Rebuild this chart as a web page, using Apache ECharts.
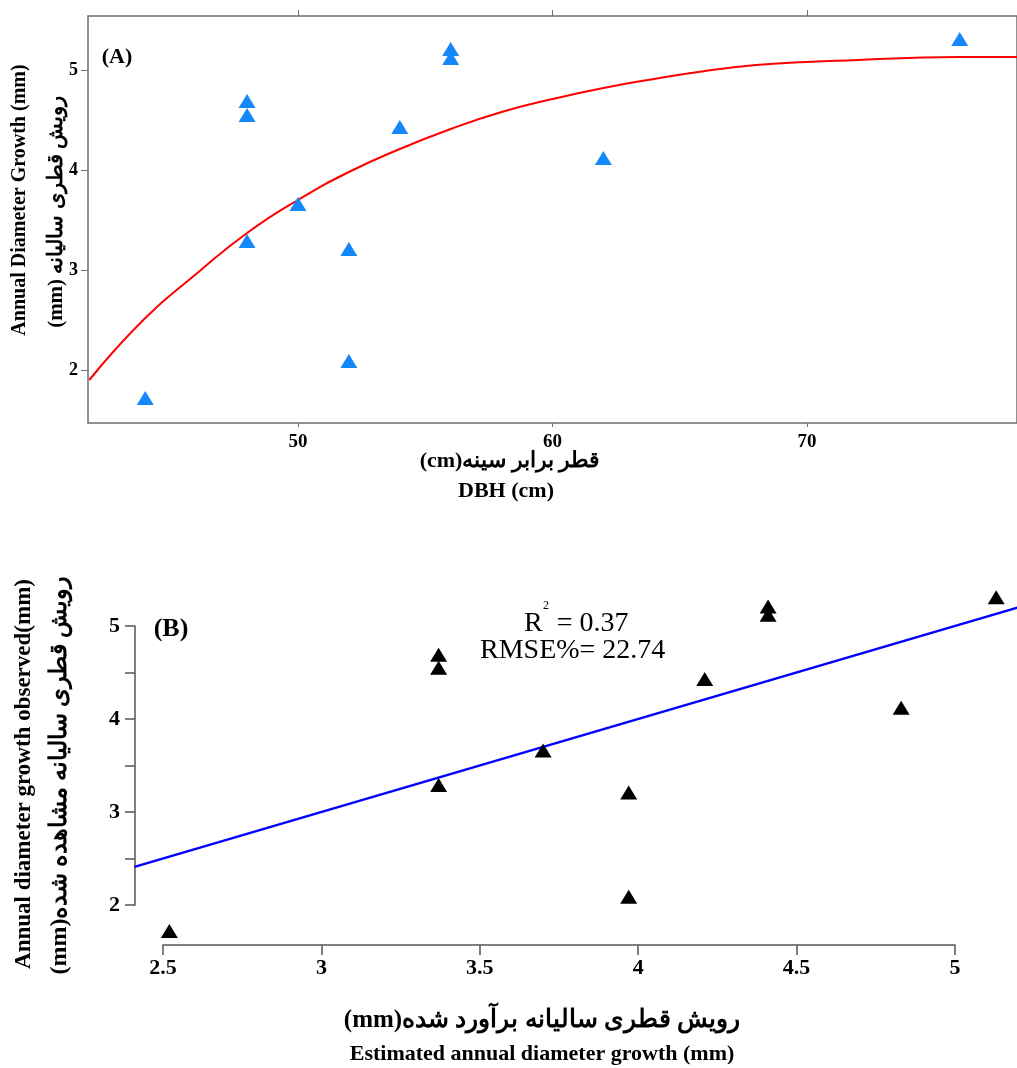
<!DOCTYPE html>
<html>
<head>
<meta charset="utf-8">
<script src="https://cdn.jsdelivr.net/npm/echarts@6.0.0/dist/echarts.min.js"></script>
<style>
html, body { margin: 0; padding: 0; background: #fff; }
#main { width: 1017px; height: 1068px; }
</style>
</head>
<body>
<div id="main"></div>
<script>
// ---- values ----
const dbh = [44, 48, 48, 48, 50, 52, 52, 54, 56, 56, 62, 76];
const observed = [1.72, 4.69, 4.55, 3.29, 3.66, 3.21, 2.09, 4.43, 5.21, 5.12, 4.12, 5.31];
const estimated = [2.52, 3.37, 3.37, 3.37, 3.70, 3.97, 3.97, 4.21, 4.41, 4.41, 4.83, 5.13];

// fitted curve of panel A
const curveX = [41.8, 44, 46, 48, 50, 52, 54, 56, 58, 60, 62, 64, 66, 68, 70, 72, 74, 76, 78.25];
const curveY = [1.90, 2.52, 2.96, 3.37, 3.70, 3.98, 4.21, 4.41, 4.58, 4.71, 4.82, 4.91, 4.99, 5.05, 5.08, 5.10, 5.12, 5.13, 5.13];

// 1:1 line of panel B
const lineX = [2.41, 5.2];
const lineY = [2.41, 5.2];

const topXTicks = [50, 60, 70];
const topYTicks = [2, 3, 4, 5];

const serif = "'Liberation Serif', 'Times New Roman', serif";

const chart = echarts.init(document.getElementById('main'));

const txt = (text, x, y, size, opts) => Object.assign({
  type: 'text',
  x: x, y: y,
  style: {
    text: text,
    font: 'bold ' + size + 'px ' + serif,
    fill: '#000',
    textAlign: 'center',
    textVerticalAlign: 'middle'
  }
}, opts || {});

const option = {
  animation: false,
  backgroundColor: '#fff',
  grid: [
    { left: 88, right: 0, top: 16, height: 407, show: true, borderColor: '#6e6e6e', borderWidth: 1.5, backgroundColor: 'transparent' },
    { left: 163, right: 62, top: 626, bottom: 163 }
  ],
  xAxis: [
    {
      gridIndex: 0, type: 'value', min: 41.75, max: 78.25,
      axisLine: { show: false },
      axisTick: { show: true, customValues: topXTicks, length: 4, lineStyle: { color: '#6e6e6e' } },
      axisLabel: { customValues: topXTicks, color: '#000', fontFamily: serif, fontWeight: 'bold', fontSize: 19, margin: 10 },
      splitLine: { show: false }
    },
    {
      gridIndex: 0, type: 'value', position: 'top', min: 41.75, max: 78.25,
      axisLine: { show: false },
      axisTick: { show: true, customValues: topXTicks, length: 6, lineStyle: { color: '#6e6e6e' } },
      axisLabel: { show: false },
      splitLine: { show: false }
    },
    {
      gridIndex: 1, type: 'value', min: 2.5, max: 5, interval: 0.5, offset: 40,
      axisLine: { show: true, lineStyle: { color: '#555', width: 1.5 } },
      axisTick: { show: true, length: 10, lineStyle: { color: '#555', width: 1.5 } },
      axisLabel: { color: '#000', fontFamily: serif, fontWeight: 'bold', fontSize: 22, margin: 12 },
      splitLine: { show: false }
    }
  ],
  yAxis: [
    {
      gridIndex: 0, type: 'value', min: 1.47, max: 5.54,
      axisLine: { show: false },
      axisTick: { show: true, customValues: topYTicks, length: 7, lineStyle: { color: '#6e6e6e' } },
      axisLabel: { customValues: topYTicks, color: '#000', fontFamily: serif, fontWeight: 'bold', fontSize: 18, margin: 10 },
      splitLine: { show: false }
    },
    {
      gridIndex: 1, type: 'value', min: 2, max: 5, interval: 0.5, offset: 28,
      axisLine: { show: true, lineStyle: { color: '#555', width: 1.5 } },
      axisTick: { show: true, length: 10, lineStyle: { color: '#555', width: 1.5 } },
      axisLabel: {
        color: '#000', fontFamily: serif, fontWeight: 'bold', fontSize: 22, margin: 15,
        formatter: v => (Math.abs(v - Math.round(v)) < 1e-9 ? String(v) : '')
      },
      splitLine: { show: false }
    }
  ],
  series: [
    {
      type: 'line', xAxisIndex: 0, yAxisIndex: 0,
      data: curveX.map((x, i) => [x, curveY[i]]),
      smooth: true, showSymbol: false,
      lineStyle: { color: '#ff0000', width: 2 },
      z: 2
    },
    {
      type: 'scatter', xAxisIndex: 0, yAxisIndex: 0,
      data: dbh.map((x, i) => [x, observed[i]]),
      symbol: 'triangle', symbolSize: [17, 14],
      itemStyle: { color: '#1487fa', opacity: 1 },
      z: 3
    },
    {
      // 1:1 line runs past the short axes, so draw it unclipped
      type: 'custom', xAxisIndex: 2, yAxisIndex: 1, clip: false,
      data: [[lineX[0], lineY[0], lineX[1], lineY[1]]],
      encode: { x: [0, 2], y: [1, 3] },
      renderItem: (params, api) => {
        const p1 = api.coord([api.value(0), api.value(1)]);
        const p2 = api.coord([api.value(2), api.value(3)]);
        return {
          type: 'line',
          shape: { x1: p1[0], y1: p1[1], x2: p2[0], y2: p2[1] },
          style: { stroke: '#0000ff', lineWidth: 2.5 }
        };
      },
      z: 2
    },
    {
      type: 'scatter', xAxisIndex: 2, yAxisIndex: 1,
      data: estimated.map((x, i) => [x, observed[i]]),
      symbol: 'triangle', symbolSize: [17, 14], clip: false,
      itemStyle: { color: '#000', opacity: 1 },
      z: 3
    }
  ],
  graphic: [
    // panel A labels
    txt('(A)', 117, 57, 22),
    txt('Annual Diameter Growth (mm)', 20, 200, 20, { rotation: Math.PI / 2 }),
    txt('(mm) رویش قطری سالیانه', 57, 212, 21, { rotation: Math.PI / 2 }),
    txt('(cm)قطر برابر سینه', 510, 461, 22),
    txt('DBH (cm)', 506, 491, 22),
    // panel B labels
    txt('(B)', 171, 629, 26),
    txt('Annual diameter growth observed(mm)', 24, 774, 23, { rotation: Math.PI / 2 }),
    txt('(mm)رویش قطری سالیانه مشاهده شده', 60, 775, 24, { rotation: Math.PI / 2 }),
    txt('(mm)رویش قطری سالیانه برآورد شده', 542, 1021, 25),
    txt('Estimated annual diameter growth (mm)', 542, 1054, 22),
    {
      type: 'text', x: 524, y: 624,
      style: { text: 'R  = 0.37', font: '28px ' + serif, fill: '#000', textAlign: 'left', textVerticalAlign: 'middle' }
    },
    {
      type: 'text', x: 543, y: 606,
      style: { text: '2', font: '12px ' + serif, fill: '#000', textAlign: 'left', textVerticalAlign: 'middle' }
    },
    {
      type: 'text', x: 480, y: 651,
      style: { text: 'RMSE%= 22.74', font: '28px ' + serif, fill: '#000', textAlign: 'left', textVerticalAlign: 'middle' }
    }
  ]
};

chart.setOption(option);
</script>
</body>
</html>
